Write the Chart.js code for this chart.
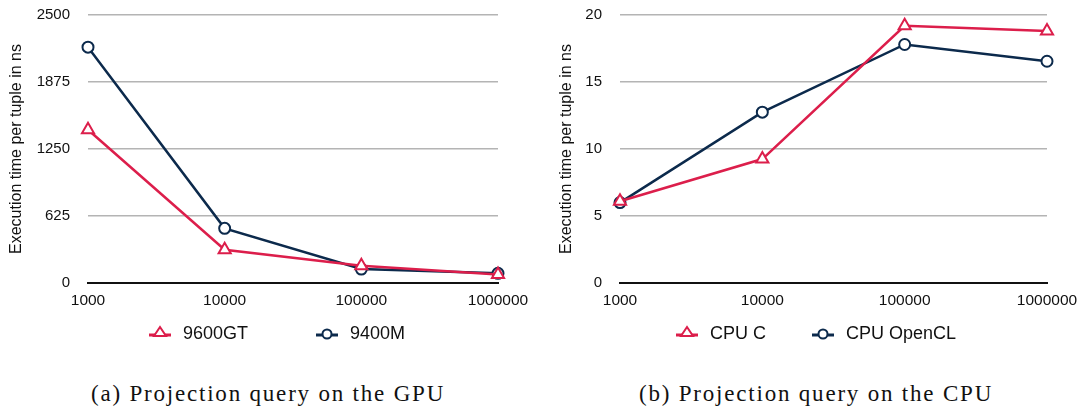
<!DOCTYPE html>
<html lang="en">
<head>
    <meta charset="UTF-8"/>
    <title>Projection query</title>
    <script src="https://cdn.jsdelivr.net/npm/chart.js"></script>
    <style>
        html, body {
            margin: 0;
            padding: 0;
            background: #fff;
            width: 1088px;
            height: 408px;
            overflow: hidden;
            position: relative;
        }
        .panel {
            position: absolute;
            top: 0;
            height: 360px;
        }
        #panelA { left: 0; width: 544px; }
        #panelB { left: 550px; width: 538px; }
        .caption {
            position: absolute;
            top: 381px;
            font-family: 'Liberation Serif', serif;
            font-size: 23px;
            letter-spacing: 1.8px;
            color: #111;
            white-space: nowrap;
            transform: translateX(-50%);
        }
    </style>
</head>
<body>
<div class="panel" id="panelA"><canvas id="gpuChart"></canvas></div>
<div class="panel" id="panelB"><canvas id="cpuChart"></canvas></div>
<div class="caption" style="left:268px">(a) Projection query on the GPU</div>
<div class="caption" style="left:816px">(b) Projection query on the CPU</div>

<script>
    // tuple counts on the x axis
    const sizes = ['1000', '10000', '100000', '1000000'];

    // GPU panel
    const gpu9600GT = [1430, 310, 160, 80];
    const gpu9400M = [2200, 510, 130, 90];
    const gpuTicks = [0, 625, 1250, 1875, 2500];

    // CPU panel
    const cpuC = [6.1, 9.25, 19.2, 18.8];
    const cpuOpenCL = [6.0, 12.75, 17.8, 16.55];
    const cpuTicks = [0, 5, 10, 15, 20];

    const RED = '#dc1e4b';
    const NAVY = '#0c2a4c';
    const FONT = "'Liberation Sans', Arial, sans-serif";

    // legend drawn as line + marker, like the original
    const lineLegend = {
        id: 'lineLegend',
        afterDraw(chart, args, opts) {
            const ctx = chart.ctx;
            ctx.save();
            ctx.font = '18px ' + FONT;
            ctx.textBaseline = 'middle';
            const y = opts.y;
            chart.data.datasets.forEach((ds, i) => {
                const x = opts.xs[i];
                ctx.strokeStyle = ds.borderColor;
                ctx.lineWidth = 3;
                ctx.beginPath();
                ctx.moveTo(x - 11, y + 2);
                ctx.lineTo(x + 11, y + 2);
                ctx.stroke();
                ctx.fillStyle = '#fff';
                ctx.lineWidth = 2;
                ctx.beginPath();
                if (ds.pointStyle === 'triangle') {
                    ctx.moveTo(x, y - 6);
                    ctx.lineTo(x + 6, y + 3);
                    ctx.lineTo(x - 6, y + 3);
                    ctx.closePath();
                } else {
                    ctx.arc(x, y + 1, 4.5, 0, Math.PI * 2);
                }
                ctx.fill();
                ctx.stroke();
                ctx.fillStyle = '#111';
                ctx.fillText(ds.label, x + 23, y + 1);
            });
            ctx.restore();
        }
    };

    function makeSeries(label, data, color, style) {
        return {
            label: label,
            data: data,
            borderColor: color,
            backgroundColor: '#fff',
            borderWidth: 2.5,
            pointStyle: style,
            pointRadius: style === 'triangle' ? 7 : 5.5,
            pointBorderWidth: 2,
            pointBackgroundColor: '#fff',
            pointBorderColor: color,
            tension: 0
        };
    }

    function makeChart(canvasId, series, ticks, yAxisWidth, rightPad, legendXs) {
        const maxTick = ticks[ticks.length - 1];
        return new Chart(document.getElementById(canvasId), {
            type: 'line',
            data: { labels: sizes, datasets: series },
            options: {
                responsive: true,
                maintainAspectRatio: false,
                animation: false,
                layout: { padding: { top: 15, right: rightPad, bottom: 45, left: 0 } },
                plugins: {
                    legend: { display: false },
                    tooltip: { enabled: false },
                    lineLegend: { xs: legendXs, y: 333 }
                },
                scales: {
                    x: {
                        offset: false,
                        grid: { display: false, drawTicks: false },
                        border: { display: true, color: '#111', width: 2 },
                        ticks: { color: '#111', font: { family: FONT, size: 15.5 }, padding: 8, maxRotation: 0, autoSkip: false },
                        afterFit: scale => { scale.height = 32; }
                    },
                    y: {
                        min: 0,
                        max: maxTick,
                        afterBuildTicks: scale => { scale.ticks = ticks.map(v => ({ value: v })); },
                        grid: {
                            drawTicks: false,
                            color: c => c.tick && c.tick.value === 0 ? '#111' : '#b4b4b4',
                            lineWidth: 1.5
                        },
                        border: { display: false },
                        ticks: {
                            color: '#111',
                            font: { family: FONT, size: 15 },
                            padding: 18,
                            callback: value => String(value)
                        },
                        title: {
                            display: true,
                            text: 'Execution time per tuple in ns',
                            color: '#111',
                            font: { family: FONT, size: 16 },
                            padding: { top: 7, bottom: 4 }
                        },
                        afterFit: scale => {
                            scale.width = yAxisWidth;
                            scale.paddingTop = 0;
                            scale.paddingBottom = 0;
                        }
                    }
                }
            },
            plugins: [lineLegend]
        });
    }

    makeChart('gpuChart', [
        makeSeries('9600GT', gpu9600GT, RED, 'triangle'),
        makeSeries('9400M', gpu9400M, NAVY, 'circle')
    ], gpuTicks, 88, 46, [160, 327]);

    makeChart('cpuChart', [
        makeSeries('CPU C', cpuC, RED, 'triangle'),
        makeSeries('CPU OpenCL', cpuOpenCL, NAVY, 'circle')
    ], cpuTicks, 70, 41, [137, 273]);
</script>
</body>
</html>
